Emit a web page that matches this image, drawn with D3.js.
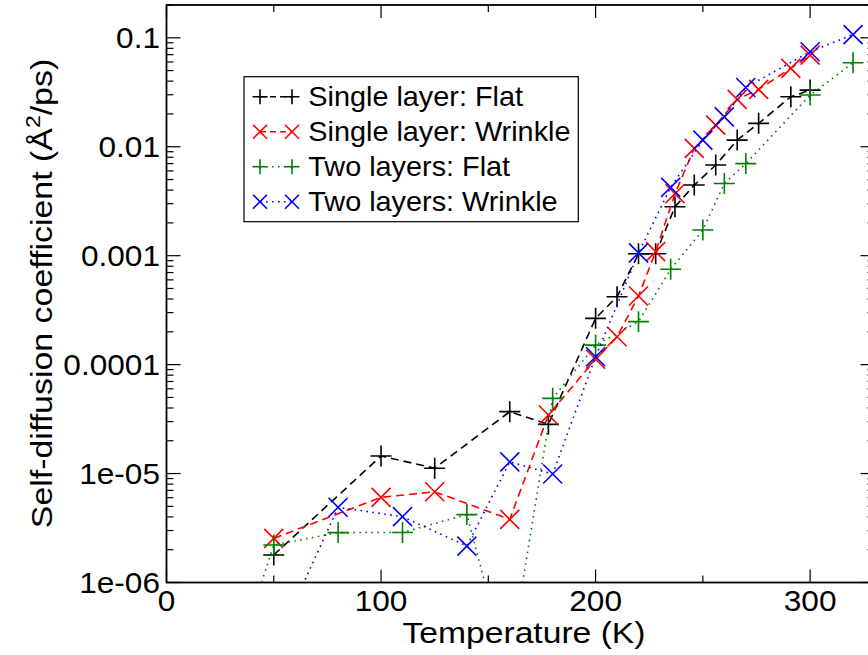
<!DOCTYPE html>
<html>
<head>
<meta charset="utf-8">
<script src="https://cdn.jsdelivr.net/npm/d3@7"></script>
<style>
  html, body { margin: 0; padding: 0; background: #fff; }
  svg { display: block; font-family: "Liberation Sans", Arial, Helvetica, sans-serif; }
</style>
</head>
<body>
<svg id="chart" width="868" height="655"></svg>
<script>
// Temperatures (K) and self-diffusion coefficients (Å^2/ps) for each system
const singleFlatT = [50, 100, 125, 160, 178, 200, 210, 220, 228, 237, 246, 256, 266, 276, 291, 300];
const singleFlatD = [1.79e-6, 1.45e-5, 1.12e-5, 3.7e-5, 2.83e-5, 2.66e-4, 4.2e-4, 1.04e-3, 1.04e-3, 2.81e-3, 4.45e-3, 6.79e-3, 1.15e-2, 1.64e-2, 2.88e-2, 3.31e-2];

const singleWrinkleT = [50, 100, 125, 160, 178, 200, 210, 220, 228, 237, 246, 256, 266, 276, 291, 300];
const singleWrinkleD = [2.54e-6, 6.05e-6, 6.8e-6, 3.8e-6, 3.45e-5, 1.12e-4, 1.8e-4, 4.26e-4, 1.09e-3, 3.7e-3, 9.66e-3, 1.58e-2, 2.72e-2, 3.36e-2, 5.24e-2, 6.94e-2];

const twoFlatT = [40, 50, 80, 110, 140, 150, 160, 180, 200, 220, 235, 250, 260, 270, 300, 320];
const twoFlatD = [5.5e-7, 2.21e-6, 2.87e-6, 2.88e-6, 4.2e-6, 7.5e-7, 1.9e-7, 4.9e-5, 1.51e-4, 2.48e-4, 7.5e-4, 1.72e-3, 4.6e-3, 7.0e-3, 2.98e-2, 5.9e-2];

const twoWrinkleT = [60, 80, 110, 140, 160, 180, 200, 220, 235, 250, 260, 270, 300, 320];
const twoWrinkleD = [6.7e-7, 4.9e-6, 4.02e-6, 2.16e-6, 1.28e-5, 9.9e-6, 1.18e-4, 1.06e-3, 4.24e-3, 1.15e-2, 1.88e-2, 3.5e-2, 7.45e-2, 0.107];

const seriesNames = ["Single layer: Flat", "Single layer: Wrinkle", "Two layers: Flat", "Two layers: Wrinkle"];

// Axis ticks and their labels
const xMajorTicks = [0, 100, 200, 300];
const xMinorTicks = [50, 150, 250];
const xTickLabels = ["0", "100", "200", "300"];
const yMajorTicks = [1e-6, 1e-5, 1e-4, 1e-3, 1e-2, 1e-1];
const yTickLabels = ["1e-06", "1e-05", "0.0001", "0.001", "0.01", "0.1"];

const series = [
  { name: seriesNames[0], T: singleFlatT, D: singleFlatD, color: "#000000", marker: "plus", dash: "8,5" },
  { name: seriesNames[1], T: singleWrinkleT, D: singleWrinkleD, color: "#ff0000", marker: "cross", dash: "8,5" },
  { name: seriesNames[2], T: twoFlatT, D: twoFlatD, color: "#008000", marker: "plus", dash: "1.6,4.4" },
  { name: seriesNames[3], T: twoWrinkleT, D: twoWrinkleD, color: "#0000ff", marker: "cross", dash: "1.6,4.4" }
];

const plotLeft = 166.5, plotRight = 874.5, plotTop = 5, plotBottom = 582.5;

const svg = d3.select("#chart");

const x = d3.scaleLinear().domain([0, 330]).range([plotLeft, plotRight]);
const y = d3.scaleLog().domain([1e-6, 0.2]).range([plotBottom, plotTop]);

// Text in a slightly widened Helvetica-like face
function wideText(parent, px, py, str, size, stretch, anchor, rotate) {
  const g = parent.append("g")
    .attr("transform", `translate(${px},${py})${rotate ? " rotate(" + rotate + ")" : ""} scale(${stretch},1)`);
  return g.append("text").attr("x", 0).attr("y", 0)
    .attr("text-anchor", anchor).attr("font-size", size).text(str);
}

svg.append("defs").append("clipPath").attr("id", "plotClip")
  .append("rect").attr("x", plotLeft).attr("y", plotTop)
  .attr("width", plotRight - plotLeft).attr("height", plotBottom - plotTop);

// Minor ticks for the log axis: 2..9 in each decade
const yMinorTicks = [];
yMajorTicks.forEach(d => { for (let k = 2; k <= 9; k++) { const v = d * k; if (v <= 0.2) yMinorTicks.push(v); } });

const axisG = svg.append("g").attr("stroke", "#000").attr("stroke-width", 1.2);

// left & right ticks
yMajorTicks.forEach(v => {
  axisG.append("line").attr("x1", plotLeft).attr("x2", plotLeft + 14).attr("y1", y(v)).attr("y2", y(v));
  axisG.append("line").attr("x1", plotRight).attr("x2", plotRight - 14).attr("y1", y(v)).attr("y2", y(v));
});
yMinorTicks.forEach(v => {
  axisG.append("line").attr("x1", plotLeft).attr("x2", plotLeft + 7).attr("y1", y(v)).attr("y2", y(v));
  axisG.append("line").attr("x1", plotRight).attr("x2", plotRight - 7).attr("y1", y(v)).attr("y2", y(v));
});
// bottom & top ticks
xMajorTicks.forEach(v => {
  axisG.append("line").attr("x1", x(v)).attr("x2", x(v)).attr("y1", plotBottom).attr("y2", plotBottom - 13);
  axisG.append("line").attr("x1", x(v)).attr("x2", x(v)).attr("y1", plotTop).attr("y2", plotTop + 13);
});
xMinorTicks.forEach(v => {
  axisG.append("line").attr("x1", x(v)).attr("x2", x(v)).attr("y1", plotBottom).attr("y2", plotBottom - 7);
  axisG.append("line").attr("x1", x(v)).attr("x2", x(v)).attr("y1", plotTop).attr("y2", plotTop + 7);
});

// frame
svg.append("rect").attr("x", plotLeft).attr("y", plotTop)
  .attr("width", plotRight - plotLeft).attr("height", plotBottom - plotTop)
  .attr("fill", "none").attr("stroke", "#000").attr("stroke-width", 1.8);

// tick labels
const tickLabels = svg.append("g");
xMajorTicks.forEach((d, i) => wideText(tickLabels, x(d), 611, xTickLabels[i], 29, 1.09, "middle"));
yMajorTicks.forEach((d, i) => wideText(tickLabels, 160, y(d) + 10.5, yTickLabels[i], 29, 1.09, "end"));

// axis titles
wideText(svg, 524, 643, "Temperature (K)", 29.5, 1.14, "middle");

const yTitle = wideText(svg, 52, 293.5, "", 29.5, 1.15, "middle", -90);
yTitle.append("tspan").text("Self-diffusion coefficient (Å");
yTitle.append("tspan").attr("font-size", 20).attr("dy", -12).text("2");
yTitle.append("tspan").attr("dy", 12).text("/ps)");

// markers
function markerPath(type, s) {
  if (type === "plus") return `M${-s},0H${s}M0,${-s}V${s}`;
  return `M${-s},${-s}L${s},${s}M${-s},${s}L${s},${-s}`;
}

const plot = svg.append("g").attr("clip-path", "url(#plotClip)");
const line = d3.line().x(d => x(d[0])).y(d => y(d[1]));

series.forEach(s => {
  const pts = s.T.map((t, i) => [t, s.D[i]]);
  plot.append("path").datum(pts).attr("d", line)
    .attr("fill", "none").attr("stroke", s.color).attr("stroke-width", 1.6)
    .attr("stroke-dasharray", s.dash);
  plot.append("g").selectAll("path").data(pts).join("path")
    .attr("transform", d => `translate(${x(d[0])},${y(d[1])})`)
    .attr("d", markerPath(s.marker, s.marker === "plus" ? 10.5 : 9.5))
    .attr("fill", "none").attr("stroke", s.color).attr("stroke-width", 1.6);
});

// legend
const lg = svg.append("g");
lg.append("rect").attr("x", 244).attr("y", 76.7).attr("width", 334.3).attr("height", 145)
  .attr("fill", "#fff").attr("stroke", "#000").attr("stroke-width", 1.2);
series.forEach((s, i) => {
  const cy = 96.7 + 35 * i;
  lg.append("line").attr("x1", 260).attr("x2", 292).attr("y1", cy).attr("y2", cy)
    .attr("stroke", s.color).attr("stroke-width", 1.6).attr("stroke-dasharray", s.dash === "8,5" ? "6,4" : "1.6,4.4");
  [260, 292].forEach(mx => {
    lg.append("path").attr("transform", `translate(${mx},${cy})`)
      .attr("d", markerPath(s.marker, s.marker === "plus" ? 7.5 : 7))
      .attr("fill", "none").attr("stroke", s.color).attr("stroke-width", 1.6);
  });
  wideText(lg, 308.3, cy + 9.5, s.name, 28, 1.03, "start");
});
</script>
</body>
</html>
